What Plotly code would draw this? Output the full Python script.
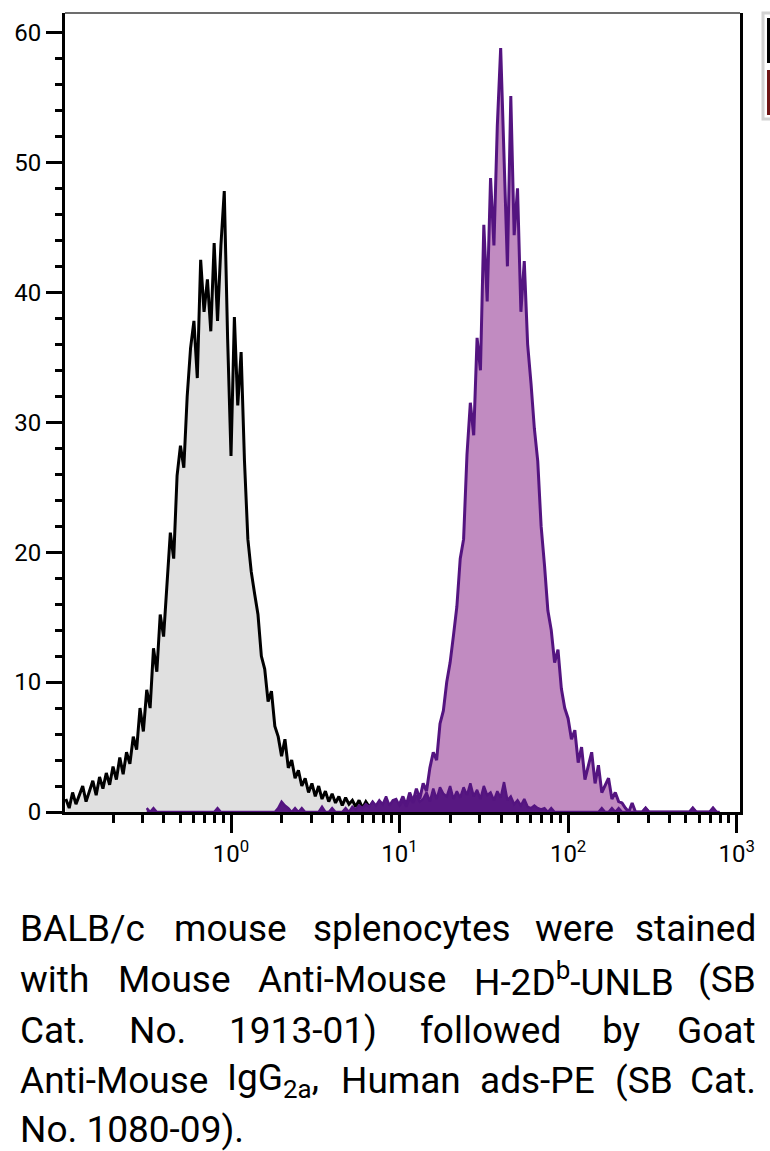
import re
import plotly.graph_objects as go

# ---------------- data ----------------
log_step = 0.02  # channel width in decades

# unstained / control histogram (grey fill, black outline)
ctrl_start = -0.98
ctrl_counts = [
    1.0, 0.3, 1.5, 0.6, 1.3, 2.0, 0.8, 1.6, 2.4, 1.3,
    2.7, 1.8, 3.0, 2.1, 3.5, 2.5, 4.2, 2.9, 4.6, 3.7,
    5.8, 4.8, 8.0, 6.2, 9.4, 8.0, 12.6, 10.8, 15.2, 13.5,
    18.0, 21.5, 19.5, 25.9, 28.2, 26.5, 32.0, 35.7, 37.8, 33.4,
    42.5, 38.5, 41.0, 37.0, 43.8, 37.8, 43.6, 47.8, 36.4, 27.4,
    38.1, 31.3, 35.4, 27.0, 21.0, 18.5, 16.8, 15.2, 12.0, 11.0,
    8.5, 9.3, 6.6, 5.8, 4.3, 5.6, 3.4, 4.0, 2.6, 3.2,
    2.0, 2.6, 1.5, 2.2, 1.2, 2.0, 1.0, 1.6, 0.8, 1.4,
    0.7, 1.2, 0.5, 1.1, 0.6, 0.9, 0.4, 0.9, 0.3, 0.8,
    0.4, 0.7, 0.2, 0.6, 0.3, 0.5, 0.2, 0.6, 0.2, 0.4,
    0.1, 0.3, 0.0, 0.2, 0.0,
]

# stained histogram (pink fill, purple outline)
stain_start = 1.00
stain_counts = [
    0.6, 1.2, 0.5, 1.5, 0.8, 1.8, 1.0, 2.2, 1.6, 3.4,
    4.6, 4.0, 6.8, 7.8, 10.0, 11.5, 13.6, 15.8, 19.5, 21.0,
    27.5, 31.5, 29.0, 36.5, 34.0, 45.2, 39.3, 48.8, 43.6, 52.8,
    58.8, 50.5, 42.0, 55.1, 44.4, 48.0, 38.5, 42.4, 36.0, 33.0,
    29.5, 27.0, 22.0, 19.0, 15.5, 14.0, 11.5, 12.5, 9.5, 8.0,
    7.2, 5.6, 6.3, 3.8, 5.0, 2.5, 3.6, 4.6, 2.2, 3.6,
    1.5, 2.0, 2.6, 1.0, 1.5, 0.8, 0.7, 0.3, 0.0, 0.7,
    0.0, 0.0, 0.0, 0.3, 0.0, 0.0, 0.0, 0.0, 0.0, 0.0,
    0.0, 0.0, 0.0, 0.0, 0.0, 0.0, 0.0, 0.3, 0.0, 0.0,
    0.0, 0.0, 0.0, 0.3, 0.0,
]

# low-level background events (dark purple)
bg_start = -0.50
bg_counts = [
    0.3, 0.0, 0.3, 0.0, 0.0, 0.0, 0.0, 0.0, 0.0, 0.0,
    0.0, 0.0, 0.0, 0.0, 0.0, 0.0, 0.0, 0.0, 0.0, 0.0,
    0.0, 0.3, 0.0, 0.0, 0.0, 0.0, 0.0, 0.0, 0.0, 0.0,
    0.0, 0.0, 0.0, 0.0, 0.0, 0.0, 0.0, 0.0, 0.0, 0.3,
    0.8, 0.5, 0.3, 0.0, 0.3, 0.0, 0.3, 0.0, 0.0, 0.0,
    0.0, 0.0, 0.4, 0.0, 0.0, 0.3, 0.0, 0.0, 0.0, 0.3,
    0.0, 0.4, 0.2, 0.5, 0.3, 0.6, 0.4, 0.8, 0.5, 0.9,
    0.6, 1.2, 0.5, 0.9, 1.0, 0.5, 0.9, 0.4, 1.1, 0.7,
    1.3, 0.8, 1.0, 1.5, 0.8, 1.8, 1.0, 1.9, 1.4, 1.2,
    2.0, 1.0, 1.6, 1.1, 1.9, 1.3, 2.2, 1.2, 1.7, 1.0,
    2.0, 1.3, 1.5, 0.9, 1.6, 1.1, 2.3, 0.9, 1.2, 0.6,
    0.9, 0.5, 1.0, 0.4, 0.3, 0.5, 0.3, 0.2, 0.3, 0.0,
    0.3, 0.0, 0.0, 0.0, 0.0, 0.0, 0.0, 0.0, 0.0, 0.0,
    0.0, 0.0, 0.0, 0.0, 0.0, 0.3, 0.0, 0.0, 0.3, 0.0,
    0.3, 0.0, 0.0, 0.0, 0.0, 0.0, 0.0, 0.0, 0.3, 0.0,
    0.0, 0.0, 0.0, 0.0, 0.0, 0.0, 0.0, 0.0, 0.0, 0.0,
    0.0, 0.0, 0.3, 0.0, 0.0, 0.0, 0.0, 0.0, 0.3, 0.0,
    0.0,
]

x_tickvals = [1, 10, 100, 1000]
x_ticktext = ["10<sup>0</sup>", "10<sup>1</sup>", "10<sup>2</sup>", "10<sup>3</sup>"]
x_minor = [m * d for d in (0.1, 1, 10, 100) for m in range(2, 10)]
y_tickvals = [0, 10, 20, 30, 40, 50, 60]

caption_lines = [
    ["BALB/c", "mouse", "splenocytes", "were", "stained"],
    ["with", "Mouse", "Anti-Mouse", "H-2D<sup>b</sup>-UNLB", "(SB"],
    ["Cat.", "No.", "1913-01)", "followed", "by", "Goat"],
    ["Anti-Mouse", "IgG<sub>2a</sub>,", "Human", "ads-PE", "(SB", "Cat."],
    ["No. 1080-09)."],
]
caption_justified = [True, True, True, True, False]

# ---------------- layout helpers ----------------
W, H = 770, 1151
L, R, T, B = 65, 740, 13, 812


def chan_x(start, n):
    return [10 ** (start + log_step * i) for i in range(n)]


def px(xp):
    return (xp - L) / (R - L)


def py(yp):
    return (B - yp) / (B - T)


# approximate Roboto Regular advance widths (em) used to justify the caption
ROBOTO_EM = {
    " ": .248, "a": .531, "b": .547, "c": .510, "d": .550, "e": .517, "f": .340,
    "g": .547, "h": .538, "i": .237, "l": .237, "m": .855, "n": .539, "o": .556,
    "p": .547, "r": .331, "s": .503, "t": .319, "u": .537, "w": .733, "y": .462,
    "A": .652, "B": .623, "C": .651, "D": .656, "G": .681, "H": .713, "I": .272,
    "L": .538, "M": .873, "N": .713, "P": .631, "S": .594, "U": .648,
    "/": .412, "-": .270, "(": .334, ")": .340, ".": .257, ",": .192,
}


def text_width(word, size):
    total = 0.0
    for part, small in re.findall(r"<su[pb]>(.*?)</su[pb]>|([^<]+)", word) and []:
        pass
    pos = 0
    for m in re.finditer(r"<(su[pb])>(.*?)</\1>", word):
        for ch in word[pos:m.start()]:
            total += ROBOTO_EM.get(ch, .562) * size
        for ch in m.group(2):
            total += ROBOTO_EM.get(ch, .562) * size * 0.7
        pos = m.end()
    for ch in word[pos:]:
        total += ROBOTO_EM.get(ch, .562) * size
    return total


fig = go.Figure()
fig.add_trace(go.Scatter(
    x=chan_x(ctrl_start, len(ctrl_counts)), y=ctrl_counts,
    mode="lines", fill="tozeroy", fillcolor="rgb(224,224,224)",
    line=dict(color="black", width=3), name="Control", showlegend=False))
fig.add_trace(go.Scatter(
    x=chan_x(stain_start, len(stain_counts)), y=stain_counts,
    mode="lines", fill="tozeroy", fillcolor="rgb(193,139,193)",
    line=dict(color="rgb(84,20,128)", width=3), name="Stained", showlegend=False))
fig.add_trace(go.Scatter(
    x=chan_x(bg_start, len(bg_counts)), y=bg_counts,
    mode="lines", fill="tozeroy", fillcolor="rgb(88,24,130)",
    line=dict(color="rgb(84,20,128)", width=2.4), name="Background", showlegend=False))

tick_font = dict(family="Roboto, 'Open Sans', sans-serif", size=24, color="black")

fig.update_xaxes(
    type="log", range=[-0.985, 3.02], automargin=False,
    showline=True, linecolor="black", linewidth=3,
    ticks="outside", ticklen=18, tickwidth=3, tickcolor="black",
    tickmode="array", tickvals=x_tickvals, ticktext=x_ticktext,
    minor=dict(tickmode="array", tickvals=x_minor, ticks="outside",
               ticklen=8, tickwidth=2.5, tickcolor="black"),
    showgrid=False, zeroline=False, tickfont=tick_font,
)
fig.update_yaxes(
    range=[0, 61.5], automargin=False,
    showline=True, linecolor="black", linewidth=3, mirror=True,
    ticks="outside", ticklen=16, tickwidth=3, tickcolor="black",
    tickmode="array", tickvals=y_tickvals,
    minor=dict(dtick=2, ticks="outside", ticklen=7, tickwidth=2.5, tickcolor="black"),
    showgrid=False, zeroline=False, tickfont=tick_font,
)

shapes = [
    # thin top frame line
    dict(type="line", xref="paper", yref="paper", x0=0, x1=1, y0=1, y1=1,
         line=dict(color="rgb(60,60,60)", width=1.5)),
    # legend box (cut off at the right edge of the image)
    dict(type="rect", xref="paper", yref="paper",
         x0=px(763), x1=px(790), y0=py(119), y1=py(13),
         line=dict(color="rgb(210,210,210)", width=3), fillcolor="white"),
    dict(type="rect", xref="paper", yref="paper",
         x0=px(767), x1=px(790), y0=py(63), y1=py(18),
         line=dict(width=0), fillcolor="black"),
    dict(type="rect", xref="paper", yref="paper",
         x0=px(767), x1=px(790), y0=py(115), y1=py(70),
         line=dict(width=0), fillcolor="rgb(110,20,20)"),
]

CAP_SIZE = 37
cap_font = dict(family="Roboto, 'Open Sans', sans-serif", size=CAP_SIZE, color="black")
left_x, right_x = 18, 758
line_y = [928, 979, 1030, 1080, 1129]

annotations = []
for words, just, yy in zip(caption_lines, caption_justified, line_y):
    if not just:
        annotations.append(dict(
            text=" ".join(words), x=px(left_x), y=py(yy), xref="paper", yref="paper",
            xanchor="left", yanchor="middle", showarrow=False, font=cap_font))
        continue
    widths = [text_width(w, CAP_SIZE) for w in words]
    gap = (right_x - left_x - sum(widths)) / (len(words) - 1)
    cur = left_x
    for i, (w, wd) in enumerate(zip(words, widths)):
        if i == len(words) - 1:
            xx, anchor = right_x, "right"
        else:
            xx, anchor = cur, "left"
        annotations.append(dict(
            text=w, x=px(xx), y=py(yy), xref="paper", yref="paper",
            xanchor=anchor, yanchor="middle", showarrow=False, font=cap_font))
        cur += wd + gap

fig.update_layout(
    width=W, height=H,
    margin=dict(l=L, r=W - R, t=T, b=H - B, pad=0),
    paper_bgcolor="white", plot_bgcolor="white",
    showlegend=False, shapes=shapes, annotations=annotations,
)

fig.write_html("out.html", config={"displayModeBar": False},
               post_script="document.body.style.margin='0';")
